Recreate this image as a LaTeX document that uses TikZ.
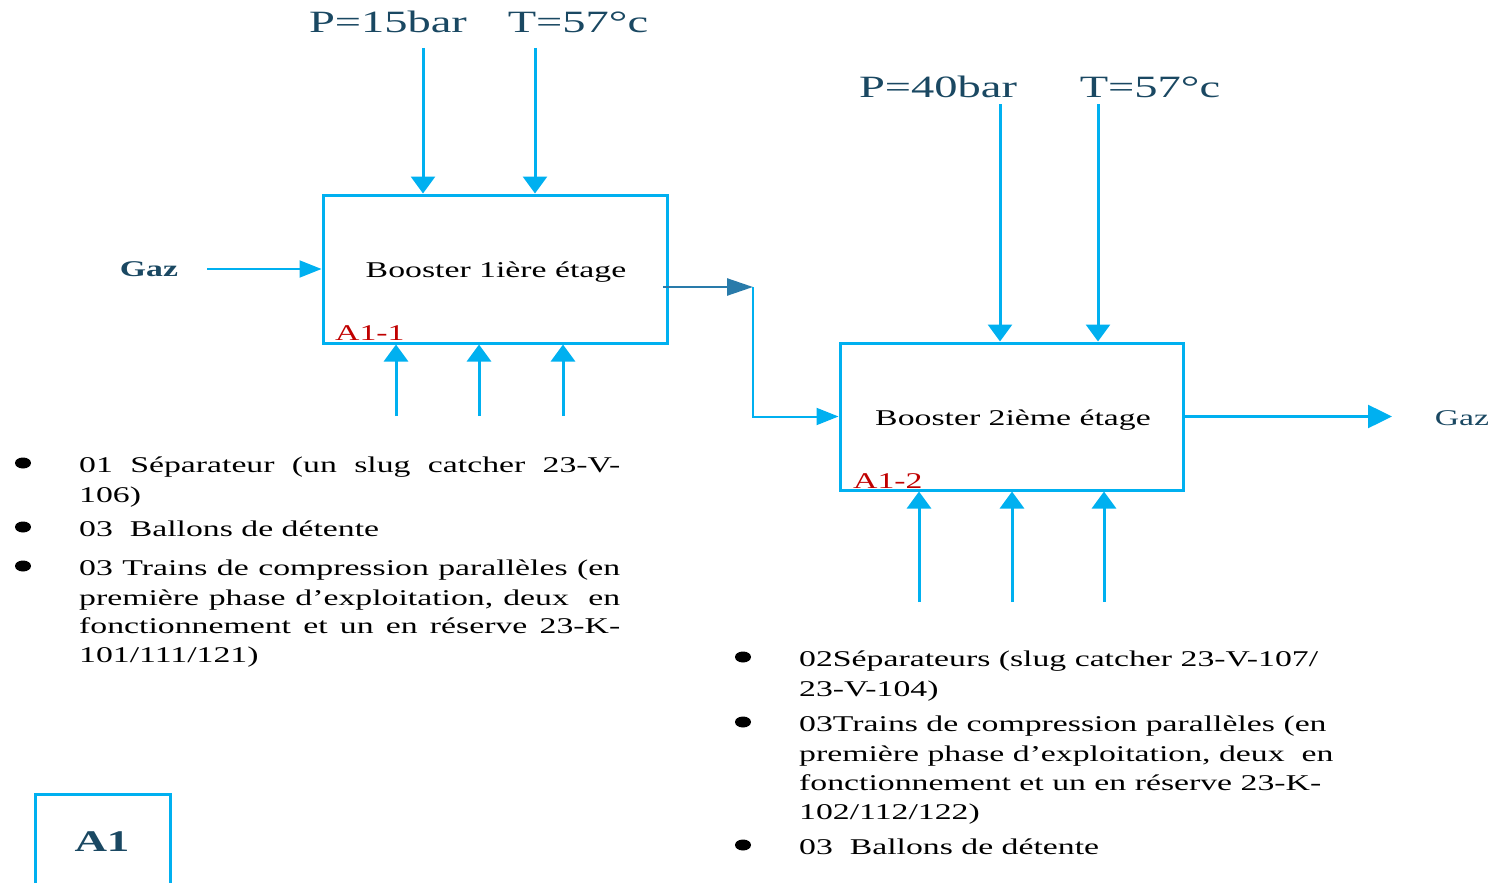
\documentclass[tikz,border=0pt]{standalone}
\usepackage{fontspec}
\setmainfont{Liberation Serif}[FakeStretch=1.5]
\usetikzlibrary{arrows.meta,shapes.geometric}
\definecolor{flow}{RGB}{0,176,240}
\definecolor{ink}{RGB}{26,72,98}
\definecolor{link}{RGB}{41,123,170}
\definecolor{tag}{RGB}{192,0,0}
\newcommand{\txt}{\fontsize{22.5}{26}\selectfont}
\newcommand{\jline}[1]{\makebox[541pt][s]{#1}}
\begin{document}
\begin{tikzpicture}[x=1pt,y=-1pt,
  box/.style={draw=flow, line width=3pt, minimum width=344pt, minimum height=148pt, inner sep=0pt},
  arr/.style={draw=flow, line width=3pt, -{Triangle[length=17pt,width=24pt]}},
  thin arr/.style={draw=flow, line width=2pt, -{Triangle[length=22pt,width=17pt]}},
  out arr/.style={draw=flow, line width=2.5pt, -{Triangle[length=24pt,width=23pt]}},
  link arr/.style={draw=link, line width=2.5pt, -{Triangle[length=26pt,width=17pt]}},
  cond/.style={font=\fontsize{31}{36}\selectfont, text=ink, anchor=base, inner sep=0pt},
  body/.style={font=\txt, anchor=base west, inner sep=0pt},
  dot/.style={ellipse, fill=black, inner sep=0pt, minimum width=16pt, minimum height=11pt},
  code/.style={font=\txt, text=tag, anchor=base west, inner sep=0pt}]
\useasboundingbox (0,0) rectangle (1492,883);

% ---- first stage ----
\node[box] (b1) at (495,269) {};
\node[font=\txt, anchor=base] (b1t) at (496,277) {Booster 1ière étage};
\node[code] (b1c) at (335,340) {A1-1};

\node[cond] (p1) at (388,33) {P=15bar};
\node[cond] (t1) at (578,33) {T=57°c};
\coordinate (p1s) at (423,48);
\coordinate (t1s) at (535,48);
\draw[arr] (p1s) -- (p1s |- b1.north);
\draw[arr] (t1s) -- (t1s |- b1.north);

\foreach \x/\n in {396/a,479/b,563/c}{
  \coordinate (m1\n) at (\x,416);
  \draw[arr] (m1\n) -- (m1\n |- b1.south);
}

\node[font=\bfseries\txt, text=ink, anchor=base] (gin) at (149,276) {Gaz};
\coordinate (ginS) at (207,269);
\draw[thin arr] (ginS) -- (ginS -| b1.west);

% ---- link between stages ----
\coordinate (j1) at (663,287);
\coordinate (j2) at (753,287);
\coordinate (j3) at (753,416.5);
\draw[link arr] (j1) -- (j2);

% ---- second stage ----
\node[box, minimum width=343pt, minimum height=147pt] (b2) at (1011.5,416.5) {};
\node[font=\txt, anchor=base] (b2t) at (1013,425) {Booster 2ième étage};
\node[code] (b2c) at (853,488) {A1-2};

\draw[thin arr] (j2) -- (j3) -- (j3 -| b2.west);

\node[cond] (p2) at (938,97) {P=40bar};
\node[cond] (t2) at (1150,97) {T=57°c};
\coordinate (p2s) at (1000,104);
\coordinate (t2s) at (1098,104);
\draw[arr] (p2s) -- (p2s |- b2.north);
\draw[arr] (t2s) -- (t2s |- b2.north);

\foreach \x/\n in {919/a,1012/b,1104/c}{
  \coordinate (m2\n) at (\x,602);
  \draw[arr] (m2\n) -- (m2\n |- b2.south);
}

\coordinate (gout) at (1392,416.5);
\draw[out arr] (b2.east) -- (gout);
\node[font=\txt, text=ink, anchor=base] (goutt) at (1462,425) {Gaz};

% ---- first stage equipment ----
\node[dot] (d1) at (23,463) {};
\node[dot] (d2) at (23,527) {};
\node[dot] (d3) at (23,566) {};
\node[body] (l1) at (79,472) {\jline{01 Séparateur (un slug catcher 23-V-}};
\node[body] (l2) at (79,502) {106)};
\node[body] (l3) at (79,536) {03\ \ Ballons de détente};
\node[body] (l4) at (79,575) {\jline{03 Trains de compression parallèles (en}};
\node[body] (l5) at (79,605) {\jline{première phase d’exploitation, deux\ \ en}};
\node[body] (l6) at (79,633) {\jline{fonctionnement et un en réserve 23-K-}};
\node[body] (l7) at (79,662) {101/111/121)};

% ---- second stage equipment ----
\node[dot] (e1) at (743,657) {};
\node[dot] (e2) at (743,722) {};
\node[dot] (e3) at (743,845) {};
\node[body] (r1) at (799,666) {02Séparateurs (slug catcher 23-V-107/};
\node[body] (r2) at (799,696) {23-V-104)};
\node[body] (r3) at (799,731) {03Trains de compression parallèles (en};
\node[body] (r4) at (799,761) {première phase d’exploitation, deux\ \ en};
\node[body] (r5) at (799,790) {fonctionnement et un en réserve 23-K-};
\node[body] (r6) at (799,819) {102/112/122)};
\node[body] (r7) at (799,854) {03\ \ Ballons de détente};

% ---- diagram tag ----
\node[font=\bfseries\fontsize{30}{34}\selectfont, text=ink, anchor=base] (a1) at (102,851) {A1};
\draw[draw=flow, line width=3pt] (35,884) |- (170,794) -- (170,884);
\end{tikzpicture}
\end{document}
